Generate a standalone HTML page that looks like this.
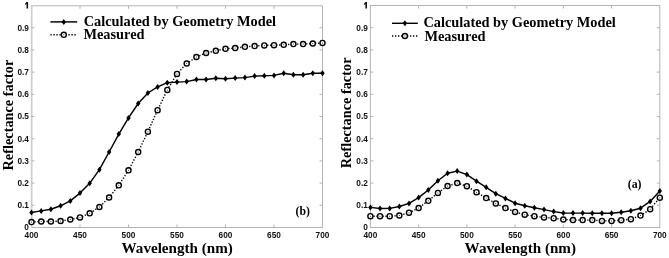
<!DOCTYPE html>
<html><head><meta charset="utf-8"><style>
html,body{margin:0;padding:0;background:#fff;width:669px;height:258px;overflow:hidden}
svg{display:block;will-change:transform;filter:blur(0.3px)}
.tk{font:bold 8.6px "Liberation Sans",sans-serif;fill:#111}
.lg{font:bold 14.35px "Liberation Serif",serif;fill:#000}
.lb{font:bold 14.3px "Liberation Serif",serif;fill:#000}
.tg{font-family:"Liberation Serif",serif;font-weight:bold;fill:#000}
</style></head><body>
<svg width="669" height="258" viewBox="0 0 669 258">
<rect width="669" height="258" fill="#fff"/>
<rect x="31.5" y="5.8" width="291" height="221.7" fill="none" stroke="#b4b4b4" stroke-width="1.0"/>
<rect x="31" y="5.8" width="1" height="221.7" fill="#fff"/>
<path d="M31.7 5.3V228" stroke="#cdcdcd" stroke-width="1.7"/>
<path d="M31.5 205.3h3M322.5 205.3h-3M31.5 183.1h3M322.5 183.1h-3M31.5 160.9h3M322.5 160.9h-3M31.5 138.7h3M322.5 138.7h-3M31.5 116.5h3M322.5 116.5h-3M31.5 94.3h3M322.5 94.3h-3M31.5 72.1h3M322.5 72.1h-3M31.5 49.9h3M322.5 49.9h-3M31.5 27.7h3M322.5 27.7h-3M80 227.5v-3M80 5.8v3M128.5 227.5v-3M128.5 5.8v3M177 227.5v-3M177 5.8v3M225.5 227.5v-3M225.5 5.8v3M274 227.5v-3M274 5.8v3" stroke="#b4b4b4" stroke-width="1.0" fill="none"/>
<text class="tk" transform="translate(28.9,230.4) scale(0.88,1)" style="font-size:9.4px" text-anchor="end">0</text>
<text class="tk" transform="translate(28.9,208.2) scale(0.88,1)" style="font-size:9.4px" text-anchor="end">0.1</text>
<text class="tk" transform="translate(28.9,186) scale(0.88,1)" style="font-size:9.4px" text-anchor="end">0.2</text>
<text class="tk" transform="translate(28.9,163.8) scale(0.88,1)" style="font-size:9.4px" text-anchor="end">0.3</text>
<text class="tk" transform="translate(28.9,141.6) scale(0.88,1)" style="font-size:9.4px" text-anchor="end">0.4</text>
<text class="tk" transform="translate(28.9,119.4) scale(0.88,1)" style="font-size:9.4px" text-anchor="end">0.5</text>
<text class="tk" transform="translate(28.9,97.2) scale(0.88,1)" style="font-size:9.4px" text-anchor="end">0.6</text>
<text class="tk" transform="translate(28.9,75) scale(0.88,1)" style="font-size:9.4px" text-anchor="end">0.7</text>
<text class="tk" transform="translate(28.9,52.8) scale(0.88,1)" style="font-size:9.4px" text-anchor="end">0.8</text>
<text class="tk" transform="translate(28.9,30.6) scale(0.88,1)" style="font-size:9.4px" text-anchor="end">0.9</text>
<path d="M26.5 2H28.1V8.6H26.5V4.1L25.1 4.9V3.7Z" fill="#111"/>
<text class="tk" transform="translate(31.5,238.1) scale(0.845,1)" style="font-size:9.8px" text-anchor="middle">400</text>
<text class="tk" transform="translate(80,238.1) scale(0.845,1)" style="font-size:9.8px" text-anchor="middle">450</text>
<text class="tk" transform="translate(128.5,238.1) scale(0.845,1)" style="font-size:9.8px" text-anchor="middle">500</text>
<text class="tk" transform="translate(177,238.1) scale(0.845,1)" style="font-size:9.8px" text-anchor="middle">550</text>
<text class="tk" transform="translate(225.5,238.1) scale(0.845,1)" style="font-size:9.8px" text-anchor="middle">600</text>
<text class="tk" transform="translate(274,238.1) scale(0.845,1)" style="font-size:9.8px" text-anchor="middle">650</text>
<text class="tk" transform="translate(322.5,238.1) scale(0.845,1)" style="font-size:9.8px" text-anchor="middle">700</text>
<polyline points="31.5,222.1 41.2,221.5 50.9,221.5 60.6,221 70.3,219.5 80,217.4 89.7,213.3 99.4,207 109.1,197.5 118.8,185.3 128.5,170.3 138.2,152 147.9,131.7 157.6,110.2 167.3,89.9 177,73.9 186.7,63.5 196.4,57 206.1,53 215.8,50.8 225.5,48.8 235.2,48.1 244.9,46.8 254.6,46.1 264.3,45.4 274,45.2 283.7,44.8 293.4,44.1 303.1,44.1 312.8,43.5 322.5,42.9" fill="none" stroke="#000" stroke-width="1.4" stroke-dasharray="1.3 1.7"/>
<polyline points="31.5,212.5 41.2,210.9 50.9,209.2 60.6,205.8 70.3,200.9 80,193.1 89.7,183.3 99.4,169.7 109.1,152 118.8,134.1 128.5,117.9 138.2,103.5 147.9,93 157.6,86.9 167.3,82.7 177,82.1 186.7,81.6 196.4,79.5 206.1,79.5 215.8,78.2 225.5,78.8 235.2,78.1 244.9,77.6 254.6,76.1 264.3,75.7 274,75.4 283.7,73.2 293.4,74.8 303.1,74.8 312.8,73.2 322.5,73.2" fill="none" stroke="#000" stroke-width="1.45" stroke-linejoin="round"/>
<path d="M31.5 209.5l2.2 3.0l-2.2 3.0l-2.2 -3.0zM41.2 207.9l2.2 3.0l-2.2 3.0l-2.2 -3.0zM50.9 206.2l2.2 3.0l-2.2 3.0l-2.2 -3.0zM60.6 202.8l2.2 3.0l-2.2 3.0l-2.2 -3.0zM70.3 197.9l2.2 3.0l-2.2 3.0l-2.2 -3.0zM80 190.1l2.2 3.0l-2.2 3.0l-2.2 -3.0zM89.7 180.3l2.2 3.0l-2.2 3.0l-2.2 -3.0zM99.4 166.7l2.2 3.0l-2.2 3.0l-2.2 -3.0zM109.1 149l2.2 3.0l-2.2 3.0l-2.2 -3.0zM118.8 131.1l2.2 3.0l-2.2 3.0l-2.2 -3.0zM128.5 114.9l2.2 3.0l-2.2 3.0l-2.2 -3.0zM138.2 100.5l2.2 3.0l-2.2 3.0l-2.2 -3.0zM147.9 90l2.2 3.0l-2.2 3.0l-2.2 -3.0zM157.6 83.9l2.2 3.0l-2.2 3.0l-2.2 -3.0zM167.3 79.7l2.2 3.0l-2.2 3.0l-2.2 -3.0zM177 79.1l2.2 3.0l-2.2 3.0l-2.2 -3.0zM186.7 78.6l2.2 3.0l-2.2 3.0l-2.2 -3.0zM196.4 76.5l2.2 3.0l-2.2 3.0l-2.2 -3.0zM206.1 76.5l2.2 3.0l-2.2 3.0l-2.2 -3.0zM215.8 75.2l2.2 3.0l-2.2 3.0l-2.2 -3.0zM225.5 75.8l2.2 3.0l-2.2 3.0l-2.2 -3.0zM235.2 75.1l2.2 3.0l-2.2 3.0l-2.2 -3.0zM244.9 74.6l2.2 3.0l-2.2 3.0l-2.2 -3.0zM254.6 73.1l2.2 3.0l-2.2 3.0l-2.2 -3.0zM264.3 72.7l2.2 3.0l-2.2 3.0l-2.2 -3.0zM274 72.4l2.2 3.0l-2.2 3.0l-2.2 -3.0zM283.7 70.2l2.2 3.0l-2.2 3.0l-2.2 -3.0zM293.4 71.8l2.2 3.0l-2.2 3.0l-2.2 -3.0zM303.1 71.8l2.2 3.0l-2.2 3.0l-2.2 -3.0zM312.8 70.2l2.2 3.0l-2.2 3.0l-2.2 -3.0zM322.5 70.2l2.2 3.0l-2.2 3.0l-2.2 -3.0z" fill="#000"/>
<circle cx="31.5" cy="222.1" r="2.55" fill="#fff" stroke="#000" stroke-width="1.4"/>
<circle cx="31.5" cy="222.1" r="0.5" fill="#000"/>
<circle cx="41.2" cy="221.5" r="2.55" fill="#fff" stroke="#000" stroke-width="1.4"/>
<circle cx="41.2" cy="221.5" r="0.5" fill="#000"/>
<circle cx="50.9" cy="221.5" r="2.55" fill="#fff" stroke="#000" stroke-width="1.4"/>
<circle cx="50.9" cy="221.5" r="0.5" fill="#000"/>
<circle cx="60.6" cy="221" r="2.55" fill="#fff" stroke="#000" stroke-width="1.4"/>
<circle cx="60.6" cy="221" r="0.5" fill="#000"/>
<circle cx="70.3" cy="219.5" r="2.55" fill="#fff" stroke="#000" stroke-width="1.4"/>
<circle cx="70.3" cy="219.5" r="0.5" fill="#000"/>
<circle cx="80" cy="217.4" r="2.55" fill="#fff" stroke="#000" stroke-width="1.4"/>
<circle cx="80" cy="217.4" r="0.5" fill="#000"/>
<circle cx="89.7" cy="213.3" r="2.55" fill="#fff" stroke="#000" stroke-width="1.4"/>
<circle cx="89.7" cy="213.3" r="0.5" fill="#000"/>
<circle cx="99.4" cy="207" r="2.55" fill="#fff" stroke="#000" stroke-width="1.4"/>
<circle cx="99.4" cy="207" r="0.5" fill="#000"/>
<circle cx="109.1" cy="197.5" r="2.55" fill="#fff" stroke="#000" stroke-width="1.4"/>
<circle cx="109.1" cy="197.5" r="0.5" fill="#000"/>
<circle cx="118.8" cy="185.3" r="2.55" fill="#fff" stroke="#000" stroke-width="1.4"/>
<circle cx="118.8" cy="185.3" r="0.5" fill="#000"/>
<circle cx="128.5" cy="170.3" r="2.55" fill="#fff" stroke="#000" stroke-width="1.4"/>
<circle cx="128.5" cy="170.3" r="0.5" fill="#000"/>
<circle cx="138.2" cy="152" r="2.55" fill="#fff" stroke="#000" stroke-width="1.4"/>
<circle cx="138.2" cy="152" r="0.5" fill="#000"/>
<circle cx="147.9" cy="131.7" r="2.55" fill="#fff" stroke="#000" stroke-width="1.4"/>
<circle cx="147.9" cy="131.7" r="0.5" fill="#000"/>
<circle cx="157.6" cy="110.2" r="2.55" fill="#fff" stroke="#000" stroke-width="1.4"/>
<circle cx="157.6" cy="110.2" r="0.5" fill="#000"/>
<circle cx="167.3" cy="89.9" r="2.55" fill="#fff" stroke="#000" stroke-width="1.4"/>
<circle cx="167.3" cy="89.9" r="0.5" fill="#000"/>
<circle cx="177" cy="73.9" r="2.55" fill="#fff" stroke="#000" stroke-width="1.4"/>
<circle cx="177" cy="73.9" r="0.5" fill="#000"/>
<circle cx="186.7" cy="63.5" r="2.55" fill="#fff" stroke="#000" stroke-width="1.4"/>
<circle cx="186.7" cy="63.5" r="0.5" fill="#000"/>
<circle cx="196.4" cy="57" r="2.55" fill="#fff" stroke="#000" stroke-width="1.4"/>
<circle cx="196.4" cy="57" r="0.5" fill="#000"/>
<circle cx="206.1" cy="53" r="2.55" fill="#fff" stroke="#000" stroke-width="1.4"/>
<circle cx="206.1" cy="53" r="0.5" fill="#000"/>
<circle cx="215.8" cy="50.8" r="2.55" fill="#fff" stroke="#000" stroke-width="1.4"/>
<circle cx="215.8" cy="50.8" r="0.5" fill="#000"/>
<circle cx="225.5" cy="48.8" r="2.55" fill="#fff" stroke="#000" stroke-width="1.4"/>
<circle cx="225.5" cy="48.8" r="0.5" fill="#000"/>
<circle cx="235.2" cy="48.1" r="2.55" fill="#fff" stroke="#000" stroke-width="1.4"/>
<circle cx="235.2" cy="48.1" r="0.5" fill="#000"/>
<circle cx="244.9" cy="46.8" r="2.55" fill="#fff" stroke="#000" stroke-width="1.4"/>
<circle cx="244.9" cy="46.8" r="0.5" fill="#000"/>
<circle cx="254.6" cy="46.1" r="2.55" fill="#fff" stroke="#000" stroke-width="1.4"/>
<circle cx="254.6" cy="46.1" r="0.5" fill="#000"/>
<circle cx="264.3" cy="45.4" r="2.55" fill="#fff" stroke="#000" stroke-width="1.4"/>
<circle cx="264.3" cy="45.4" r="0.5" fill="#000"/>
<circle cx="274" cy="45.2" r="2.55" fill="#fff" stroke="#000" stroke-width="1.4"/>
<circle cx="274" cy="45.2" r="0.5" fill="#000"/>
<circle cx="283.7" cy="44.8" r="2.55" fill="#fff" stroke="#000" stroke-width="1.4"/>
<circle cx="283.7" cy="44.8" r="0.5" fill="#000"/>
<circle cx="293.4" cy="44.1" r="2.55" fill="#fff" stroke="#000" stroke-width="1.4"/>
<circle cx="293.4" cy="44.1" r="0.5" fill="#000"/>
<circle cx="303.1" cy="44.1" r="2.55" fill="#fff" stroke="#000" stroke-width="1.4"/>
<circle cx="303.1" cy="44.1" r="0.5" fill="#000"/>
<circle cx="312.8" cy="43.5" r="2.55" fill="#fff" stroke="#000" stroke-width="1.4"/>
<circle cx="312.8" cy="43.5" r="0.5" fill="#000"/>
<circle cx="322.5" cy="42.9" r="2.55" fill="#fff" stroke="#000" stroke-width="1.4"/>
<circle cx="322.5" cy="42.9" r="0.5" fill="#000"/>
<path d="M50.4 21.9H77.2" stroke="#000" stroke-width="1.45"/>
<path d="M63.8 18.9l2.2 3.0l-2.2 3.0l-2.2 -3.0z" fill="#000"/>
<path d="M50.4 34.8H77.2" stroke="#000" stroke-width="1.4" stroke-dasharray="1.3 1.7"/>
<circle cx="63.8" cy="34.8" r="2.55" fill="#fff" stroke="#000" stroke-width="1.4"/>
<circle cx="63.8" cy="34.8" r="0.5" fill="#000"/>
<text class="lg" x="83.7" y="25.8">Calculated by Geometry Model</text>
<text class="lg" x="83.4" y="38.9">Measured</text>
<text class="lb" transform="translate(177.2,252.8) scale(1.058,1)" text-anchor="middle">Wavelength (nm)</text>
<text class="lb" transform="translate(12.6,115.1) rotate(-90)" text-anchor="middle">Reflectance factor</text>
<text class="tg" x="295.5" y="214.7" style="font-size:11.8px">(b)</text>
<rect x="370.4" y="5.5" width="289.4" height="222" fill="none" stroke="#b4b4b4" stroke-width="1.0"/>
<path d="M370.4 205.3h3M659.8 205.3h-3M370.4 183.1h3M659.8 183.1h-3M370.4 160.9h3M659.8 160.9h-3M370.4 138.7h3M659.8 138.7h-3M370.4 116.5h3M659.8 116.5h-3M370.4 94.3h3M659.8 94.3h-3M370.4 72.1h3M659.8 72.1h-3M370.4 49.9h3M659.8 49.9h-3M370.4 27.7h3M659.8 27.7h-3M418.63 227.5v-3M418.63 5.5v3M466.87 227.5v-3M466.87 5.5v3M515.1 227.5v-3M515.1 5.5v3M563.33 227.5v-3M563.33 5.5v3M611.57 227.5v-3M611.57 5.5v3" stroke="#b4b4b4" stroke-width="1.0" fill="none"/>
<text class="tk" transform="translate(367.8,230.4) scale(0.88,1)" style="font-size:9.4px" text-anchor="end">0</text>
<text class="tk" transform="translate(367.8,208.2) scale(0.88,1)" style="font-size:9.4px" text-anchor="end">0.1</text>
<text class="tk" transform="translate(367.8,186) scale(0.88,1)" style="font-size:9.4px" text-anchor="end">0.2</text>
<text class="tk" transform="translate(367.8,163.8) scale(0.88,1)" style="font-size:9.4px" text-anchor="end">0.3</text>
<text class="tk" transform="translate(367.8,141.6) scale(0.88,1)" style="font-size:9.4px" text-anchor="end">0.4</text>
<text class="tk" transform="translate(367.8,119.4) scale(0.88,1)" style="font-size:9.4px" text-anchor="end">0.5</text>
<text class="tk" transform="translate(367.8,97.2) scale(0.88,1)" style="font-size:9.4px" text-anchor="end">0.6</text>
<text class="tk" transform="translate(367.8,75) scale(0.88,1)" style="font-size:9.4px" text-anchor="end">0.7</text>
<text class="tk" transform="translate(367.8,52.8) scale(0.88,1)" style="font-size:9.4px" text-anchor="end">0.8</text>
<text class="tk" transform="translate(367.8,30.6) scale(0.88,1)" style="font-size:9.4px" text-anchor="end">0.9</text>
<path d="M365.4 2H367V8.6H365.4V4.1L364 4.9V3.7Z" fill="#111"/>
<text class="tk" transform="translate(370.4,238.1) scale(0.845,1)" style="font-size:9.8px" text-anchor="middle">400</text>
<text class="tk" transform="translate(418.63,238.1) scale(0.845,1)" style="font-size:9.8px" text-anchor="middle">450</text>
<text class="tk" transform="translate(466.87,238.1) scale(0.845,1)" style="font-size:9.8px" text-anchor="middle">500</text>
<text class="tk" transform="translate(515.1,238.1) scale(0.845,1)" style="font-size:9.8px" text-anchor="middle">550</text>
<text class="tk" transform="translate(563.33,238.1) scale(0.845,1)" style="font-size:9.8px" text-anchor="middle">600</text>
<text class="tk" transform="translate(611.57,238.1) scale(0.845,1)" style="font-size:9.8px" text-anchor="middle">650</text>
<text class="tk" transform="translate(659.8,238.1) scale(0.845,1)" style="font-size:9.8px" text-anchor="middle">700</text>
<polyline points="370.4,216.2 380.05,216.2 389.69,216.2 399.34,215.5 408.99,212.7 418.63,208 428.28,200.8 437.93,192.9 447.57,186 457.22,183 466.87,186.2 476.51,192.2 486.16,198.1 495.81,203.4 505.45,208.1 515.1,211.9 524.75,214.7 534.39,216.2 544.04,217.4 553.69,218.2 563.33,219.5 572.98,220.1 582.63,220.1 592.27,220.1 601.92,220.9 611.57,220.9 621.21,220.2 630.86,219.2 640.51,215.6 650.15,209.2 659.8,197.7" fill="none" stroke="#000" stroke-width="1.4" stroke-dasharray="1.3 1.7"/>
<polyline points="370.4,207.4 380.05,208.5 389.69,208.4 399.34,206.5 408.99,203.4 418.63,197.6 428.28,190 437.93,180.8 447.57,173.2 457.22,171.1 466.87,174.6 476.51,181.2 486.16,187.3 495.81,193.7 505.45,198.4 515.1,203.2 524.75,205.7 534.39,207.7 544.04,209.6 553.69,211.6 563.33,213 572.98,213.1 582.63,213.1 592.27,213.2 601.92,213.2 611.57,213.2 621.21,212.3 630.86,210.8 640.51,208.2 650.15,201.4 659.8,190.9" fill="none" stroke="#000" stroke-width="1.45" stroke-linejoin="round"/>
<path d="M370.4 204.4l2.2 3.0l-2.2 3.0l-2.2 -3.0zM380.05 205.5l2.2 3.0l-2.2 3.0l-2.2 -3.0zM389.69 205.4l2.2 3.0l-2.2 3.0l-2.2 -3.0zM399.34 203.5l2.2 3.0l-2.2 3.0l-2.2 -3.0zM408.99 200.4l2.2 3.0l-2.2 3.0l-2.2 -3.0zM418.63 194.6l2.2 3.0l-2.2 3.0l-2.2 -3.0zM428.28 187l2.2 3.0l-2.2 3.0l-2.2 -3.0zM437.93 177.8l2.2 3.0l-2.2 3.0l-2.2 -3.0zM447.57 170.2l2.2 3.0l-2.2 3.0l-2.2 -3.0zM457.22 168.1l2.2 3.0l-2.2 3.0l-2.2 -3.0zM466.87 171.6l2.2 3.0l-2.2 3.0l-2.2 -3.0zM476.51 178.2l2.2 3.0l-2.2 3.0l-2.2 -3.0zM486.16 184.3l2.2 3.0l-2.2 3.0l-2.2 -3.0zM495.81 190.7l2.2 3.0l-2.2 3.0l-2.2 -3.0zM505.45 195.4l2.2 3.0l-2.2 3.0l-2.2 -3.0zM515.1 200.2l2.2 3.0l-2.2 3.0l-2.2 -3.0zM524.75 202.7l2.2 3.0l-2.2 3.0l-2.2 -3.0zM534.39 204.7l2.2 3.0l-2.2 3.0l-2.2 -3.0zM544.04 206.6l2.2 3.0l-2.2 3.0l-2.2 -3.0zM553.69 208.6l2.2 3.0l-2.2 3.0l-2.2 -3.0zM563.33 210l2.2 3.0l-2.2 3.0l-2.2 -3.0zM572.98 210.1l2.2 3.0l-2.2 3.0l-2.2 -3.0zM582.63 210.1l2.2 3.0l-2.2 3.0l-2.2 -3.0zM592.27 210.2l2.2 3.0l-2.2 3.0l-2.2 -3.0zM601.92 210.2l2.2 3.0l-2.2 3.0l-2.2 -3.0zM611.57 210.2l2.2 3.0l-2.2 3.0l-2.2 -3.0zM621.21 209.3l2.2 3.0l-2.2 3.0l-2.2 -3.0zM630.86 207.8l2.2 3.0l-2.2 3.0l-2.2 -3.0zM640.51 205.2l2.2 3.0l-2.2 3.0l-2.2 -3.0zM650.15 198.4l2.2 3.0l-2.2 3.0l-2.2 -3.0zM659.8 187.9l2.2 3.0l-2.2 3.0l-2.2 -3.0z" fill="#000"/>
<circle cx="370.4" cy="216.2" r="2.55" fill="#fff" stroke="#000" stroke-width="1.4"/>
<circle cx="370.4" cy="216.2" r="0.5" fill="#000"/>
<circle cx="380.05" cy="216.2" r="2.55" fill="#fff" stroke="#000" stroke-width="1.4"/>
<circle cx="380.05" cy="216.2" r="0.5" fill="#000"/>
<circle cx="389.69" cy="216.2" r="2.55" fill="#fff" stroke="#000" stroke-width="1.4"/>
<circle cx="389.69" cy="216.2" r="0.5" fill="#000"/>
<circle cx="399.34" cy="215.5" r="2.55" fill="#fff" stroke="#000" stroke-width="1.4"/>
<circle cx="399.34" cy="215.5" r="0.5" fill="#000"/>
<circle cx="408.99" cy="212.7" r="2.55" fill="#fff" stroke="#000" stroke-width="1.4"/>
<circle cx="408.99" cy="212.7" r="0.5" fill="#000"/>
<circle cx="418.63" cy="208" r="2.55" fill="#fff" stroke="#000" stroke-width="1.4"/>
<circle cx="418.63" cy="208" r="0.5" fill="#000"/>
<circle cx="428.28" cy="200.8" r="2.55" fill="#fff" stroke="#000" stroke-width="1.4"/>
<circle cx="428.28" cy="200.8" r="0.5" fill="#000"/>
<circle cx="437.93" cy="192.9" r="2.55" fill="#fff" stroke="#000" stroke-width="1.4"/>
<circle cx="437.93" cy="192.9" r="0.5" fill="#000"/>
<circle cx="447.57" cy="186" r="2.55" fill="#fff" stroke="#000" stroke-width="1.4"/>
<circle cx="447.57" cy="186" r="0.5" fill="#000"/>
<circle cx="457.22" cy="183" r="2.55" fill="#fff" stroke="#000" stroke-width="1.4"/>
<circle cx="457.22" cy="183" r="0.5" fill="#000"/>
<circle cx="466.87" cy="186.2" r="2.55" fill="#fff" stroke="#000" stroke-width="1.4"/>
<circle cx="466.87" cy="186.2" r="0.5" fill="#000"/>
<circle cx="476.51" cy="192.2" r="2.55" fill="#fff" stroke="#000" stroke-width="1.4"/>
<circle cx="476.51" cy="192.2" r="0.5" fill="#000"/>
<circle cx="486.16" cy="198.1" r="2.55" fill="#fff" stroke="#000" stroke-width="1.4"/>
<circle cx="486.16" cy="198.1" r="0.5" fill="#000"/>
<circle cx="495.81" cy="203.4" r="2.55" fill="#fff" stroke="#000" stroke-width="1.4"/>
<circle cx="495.81" cy="203.4" r="0.5" fill="#000"/>
<circle cx="505.45" cy="208.1" r="2.55" fill="#fff" stroke="#000" stroke-width="1.4"/>
<circle cx="505.45" cy="208.1" r="0.5" fill="#000"/>
<circle cx="515.1" cy="211.9" r="2.55" fill="#fff" stroke="#000" stroke-width="1.4"/>
<circle cx="515.1" cy="211.9" r="0.5" fill="#000"/>
<circle cx="524.75" cy="214.7" r="2.55" fill="#fff" stroke="#000" stroke-width="1.4"/>
<circle cx="524.75" cy="214.7" r="0.5" fill="#000"/>
<circle cx="534.39" cy="216.2" r="2.55" fill="#fff" stroke="#000" stroke-width="1.4"/>
<circle cx="534.39" cy="216.2" r="0.5" fill="#000"/>
<circle cx="544.04" cy="217.4" r="2.55" fill="#fff" stroke="#000" stroke-width="1.4"/>
<circle cx="544.04" cy="217.4" r="0.5" fill="#000"/>
<circle cx="553.69" cy="218.2" r="2.55" fill="#fff" stroke="#000" stroke-width="1.4"/>
<circle cx="553.69" cy="218.2" r="0.5" fill="#000"/>
<circle cx="563.33" cy="219.5" r="2.55" fill="#fff" stroke="#000" stroke-width="1.4"/>
<circle cx="563.33" cy="219.5" r="0.5" fill="#000"/>
<circle cx="572.98" cy="220.1" r="2.55" fill="#fff" stroke="#000" stroke-width="1.4"/>
<circle cx="572.98" cy="220.1" r="0.5" fill="#000"/>
<circle cx="582.63" cy="220.1" r="2.55" fill="#fff" stroke="#000" stroke-width="1.4"/>
<circle cx="582.63" cy="220.1" r="0.5" fill="#000"/>
<circle cx="592.27" cy="220.1" r="2.55" fill="#fff" stroke="#000" stroke-width="1.4"/>
<circle cx="592.27" cy="220.1" r="0.5" fill="#000"/>
<circle cx="601.92" cy="220.9" r="2.55" fill="#fff" stroke="#000" stroke-width="1.4"/>
<circle cx="601.92" cy="220.9" r="0.5" fill="#000"/>
<circle cx="611.57" cy="220.9" r="2.55" fill="#fff" stroke="#000" stroke-width="1.4"/>
<circle cx="611.57" cy="220.9" r="0.5" fill="#000"/>
<circle cx="621.21" cy="220.2" r="2.55" fill="#fff" stroke="#000" stroke-width="1.4"/>
<circle cx="621.21" cy="220.2" r="0.5" fill="#000"/>
<circle cx="630.86" cy="219.2" r="2.55" fill="#fff" stroke="#000" stroke-width="1.4"/>
<circle cx="630.86" cy="219.2" r="0.5" fill="#000"/>
<circle cx="640.51" cy="215.6" r="2.55" fill="#fff" stroke="#000" stroke-width="1.4"/>
<circle cx="640.51" cy="215.6" r="0.5" fill="#000"/>
<circle cx="650.15" cy="209.2" r="2.55" fill="#fff" stroke="#000" stroke-width="1.4"/>
<circle cx="650.15" cy="209.2" r="0.5" fill="#000"/>
<circle cx="659.8" cy="197.7" r="2.55" fill="#fff" stroke="#000" stroke-width="1.4"/>
<circle cx="659.8" cy="197.7" r="0.5" fill="#000"/>
<path d="M392 23.3H417.8" stroke="#000" stroke-width="1.45"/>
<path d="M404.9 20.3l2.2 3.0l-2.2 3.0l-2.2 -3.0z" fill="#000"/>
<path d="M392 36H417.8" stroke="#000" stroke-width="1.4" stroke-dasharray="1.3 1.7"/>
<circle cx="404.9" cy="36" r="2.55" fill="#fff" stroke="#000" stroke-width="1.4"/>
<circle cx="404.9" cy="36" r="0.5" fill="#000"/>
<text class="lg" x="423.4" y="27.3">Calculated by Geometry Model</text>
<text class="lg" x="424.4" y="40.6">Measured</text>
<text class="lb" transform="translate(520.3,252.8) scale(1.058,1)" text-anchor="middle">Wavelength (nm)</text>
<text class="lb" transform="translate(351.2,112.9) rotate(-90)" text-anchor="middle">Reflectance factor</text>
<text class="tg" x="627.8" y="187.8" style="font-size:11.8px">(a)</text>
</svg>
</body></html>
